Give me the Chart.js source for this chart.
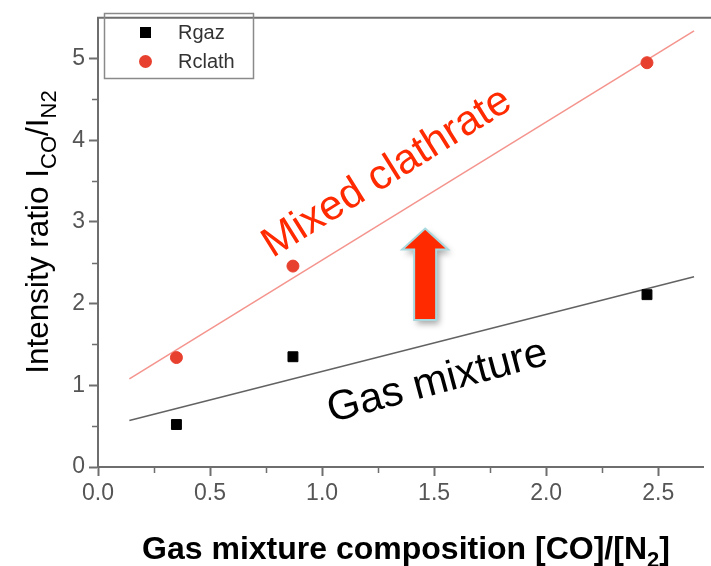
<!DOCTYPE html>
<html>
<head>
<meta charset="utf-8">
<script src="https://cdn.jsdelivr.net/npm/chart.js@4.4.1/dist/chart.umd.min.js"></script>
<style>
  html, body { margin: 0; padding: 0; background: #fff; overflow: hidden; }
</style>
</head>
<body>
<canvas id="ratio-chart" width="711" height="566"></canvas>
<script>
// Measured intensity ratios
const composition = [0.35, 0.87, 2.45];
const rGaz = [0.52, 1.35, 2.11];
const rClath = [1.34, 2.46, 4.95];

// Linear fits, given by their two end points
const fitX = [0.14, 2.66];
const gazFit = [0.57, 2.33];
const clathFit = [1.08, 5.34];

// Axis ticks
const xTicks = [0, 0.5, 1, 1.5, 2, 2.5];
const xMinorTicks = [0.25, 0.75, 1.25, 1.75, 2.25];
const yTicks = [0, 1, 2, 3, 4, 5];
const yMinorTicks = [0.5, 1.5, 2.5, 3.5, 4.5];

const FONT = '"Liberation Sans", Arial, sans-serif';
const AXIS_GREY = '#6e6e6e';
const RED = '#e8402e';

function points(xs, ys) {
    return xs.map((x, i) => ({ x: x, y: ys[i] }));
}

// text with subscript pieces, centred on x, baseline at y
function richText(ctx, parts, x, y, size, weight) {
    const fontFor = p => (weight || '') + ' ' + (p.sub ? Math.round(size * 0.7) : size) + 'px ' + FONT;
    let total = 0;
    parts.forEach(p => { ctx.font = fontFor(p); total += ctx.measureText(p.t).width; });
    let cx = x - total / 2;
    ctx.textAlign = 'left';
    ctx.textBaseline = 'alphabetic';
    parts.forEach(p => {
        ctx.font = fontFor(p);
        ctx.fillText(p.t, cx, y + (p.sub ? size * 0.24 : 0));
        cx += ctx.measureText(p.t).width;
    });
}

const decorations = {
    id: 'decorations',
    afterDraw(chart) {
        const { ctx, chartArea: a, scales: { x, y } } = chart;
        ctx.save();

        // top frame line
        ctx.strokeStyle = AXIS_GREY;
        ctx.lineWidth = 2;
        ctx.beginPath();
        ctx.moveTo(a.left - 1, a.top);
        ctx.lineTo(chart.width, a.top);
        ctx.stroke();

        // minor ticks
        ctx.lineWidth = 1.5;
        ctx.beginPath();
        xMinorTicks.forEach(v => {
            const px = Math.round(x.getPixelForValue(v)) + 0.5;
            ctx.moveTo(px, a.bottom);
            ctx.lineTo(px, a.bottom + 6);
        });
        yMinorTicks.forEach(v => {
            const py = Math.round(y.getPixelForValue(v)) + 0.5;
            ctx.moveTo(a.left, py);
            ctx.lineTo(a.left - 6, py);
        });
        ctx.stroke();

        // upward arrow between the two fits
        const tx = x.getPixelForValue(1.46);
        const ty = y.getPixelForValue(2.92);
        const by = y.getPixelForValue(1.80);
        ctx.beginPath();
        ctx.moveTo(tx, ty);
        ctx.lineTo(tx + 23, ty + 21);
        ctx.lineTo(tx + 11, ty + 21);
        ctx.lineTo(tx + 11, by);
        ctx.lineTo(tx - 11, by);
        ctx.lineTo(tx - 11, ty + 21);
        ctx.lineTo(tx - 23, ty + 21);
        ctx.closePath();
        ctx.shadowColor = 'rgba(0,0,0,0.35)';
        ctx.shadowBlur = 6;
        ctx.shadowOffsetX = 3;
        ctx.shadowOffsetY = 4;
        ctx.fillStyle = '#ff2a00';
        ctx.fill();
        ctx.shadowColor = 'transparent';
        ctx.strokeStyle = '#a9d9de';
        ctx.lineWidth = 2;
        ctx.stroke();

        // labels along the fits
        const label = (text, vx, vy, deg, color) => {
            ctx.save();
            ctx.translate(x.getPixelForValue(vx), y.getPixelForValue(vy));
            ctx.rotate(deg * Math.PI / 180);
            ctx.font = '42px ' + FONT;
            ctx.fillStyle = color;
            ctx.textAlign = 'center';
            ctx.textBaseline = 'middle';
            ctx.fillText(text, 0, 0);
            ctx.restore();
        };
        label('Mixed clathrate', 1.29, 3.6, -32, '#ff2a00');
        label('Gas mixture', 1.515, 1.04, -15, '#000');

        // legend box
        const ds = chart.data.datasets;
        ctx.strokeStyle = '#8a8a8a';
        ctx.lineWidth = 1.5;
        ctx.strokeRect(104.5, 13.5, 149, 65);
        ctx.fillStyle = ds[0].backgroundColor;
        ctx.fillRect(140, 27, 11, 11);
        ctx.fillStyle = ds[1].backgroundColor;
        ctx.beginPath();
        ctx.arc(145.5, 61.5, 6.5, 0, Math.PI * 2);
        ctx.fill();
        ctx.fillStyle = '#333';
        ctx.font = '20px ' + FONT;
        ctx.textAlign = 'left';
        ctx.textBaseline = 'middle';
        ctx.fillText(ds[0].label, 178, 33);
        ctx.fillText(ds[1].label, 178, 62);

        // axis titles
        ctx.fillStyle = '#000';
        ctx.save();
        ctx.translate(48, 232);
        ctx.rotate(-Math.PI / 2);
        richText(ctx, [
            { t: 'Intensity ratio I' }, { t: 'CO', sub: true },
            { t: '/I' }, { t: 'N2', sub: true }
        ], 0, 0, 31.5);
        ctx.restore();
        richText(ctx, [
            { t: 'Gas mixture composition [CO]/[N' }, { t: '2', sub: true }, { t: ']' }
        ], 406, 559, 32, 'bold');

        ctx.restore();
    }
};

const axisCommon = {
    type: 'linear',
    border: { color: AXIS_GREY, width: 2 },
    grid: { drawOnChartArea: false, drawTicks: true, tickLength: 9, tickColor: AXIS_GREY, tickWidth: 2 },
    ticks: { color: '#555', font: { family: FONT, size: 23 }, padding: 4, autoSkip: false, maxRotation: 0 }
};

new Chart(document.getElementById('ratio-chart'), {
    type: 'scatter',
    data: {
        datasets: [
            {
                label: 'Rgaz',
                data: points(composition, rGaz),
                backgroundColor: '#000',
                borderColor: '#000',
                pointStyle: 'rect',
                pointRadius: 7,
                order: 0
            },
            {
                label: 'Rclath',
                data: points(composition, rClath),
                backgroundColor: RED,
                borderColor: RED,
                pointStyle: 'circle',
                pointRadius: 6,
                order: 0
            },
            {
                label: 'gaz fit',
                type: 'line',
                data: points(fitX, gazFit),
                borderColor: 'rgba(70,70,70,0.85)',
                borderWidth: 1.5,
                pointRadius: 0,
                order: 1
            },
            {
                label: 'clath fit',
                type: 'line',
                data: points(fitX, clathFit),
                borderColor: 'rgba(238,90,80,0.65)',
                borderWidth: 1.5,
                pointRadius: 0,
                order: 1
            }
        ]
    },
    options: {
        responsive: false,
        animation: false,
        layout: { padding: { top: 8, right: 0, left: 0, bottom: 0 } },
        plugins: {
            legend: { display: false },
            tooltip: { enabled: false }
        },
        scales: {
            x: {
                ...axisCommon,
                position: 'bottom',
                min: 0,
                max: 2.7,
                afterBuildTicks: s => { s.ticks = xTicks.map(v => ({ value: v })); },
                afterFit: s => { s.height = 99; },
                ticks: { ...axisCommon.ticks, callback: v => v.toFixed(1) }
            },
            y: {
                ...axisCommon,
                position: 'left',
                min: 0,
                max: 5.5,
                afterBuildTicks: s => { s.ticks = yTicks.map(v => ({ value: v })); },
                afterFit: s => { s.width = 98; },
                ticks: { ...axisCommon.ticks, callback: v => String(v) }
            }
        }
    },
    plugins: [decorations]
});
</script>
</body>
</html>
